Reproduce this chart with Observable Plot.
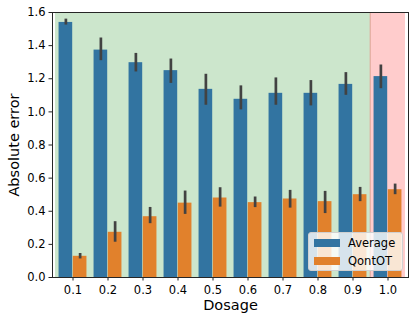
<!DOCTYPE html>
<html>
<head>
<meta charset="utf-8">
<script src="https://cdn.jsdelivr.net/npm/d3@7"></script>
<script src="https://cdn.jsdelivr.net/npm/@observablehq/plot@0.6"></script>
<style>
  html, body { margin: 0; padding: 0; background: #fff; }
  #wrap { position: relative; width: 415px; height: 322px; font-family: "DejaVu Sans", sans-serif; }
  .legend { position: absolute; left: 308px; top: 232px; width: 95px; height: 39px;
            background: rgba(255,255,255,0.8); border: 1px solid #d0d0d0; border-radius: 3px;
            box-sizing: border-box; font-size: 11.5px; color: #000; }
  .item { position: absolute; left: 5px; height: 12px; display: flex; align-items: center; }
  .sw { width: 26px; height: 8px; margin-right: 8px; }
</style>
</head>
<body>
<div id="wrap"></div>
<script>
const doses = ["0.1", "0.2", "0.3", "0.4", "0.5", "0.6", "0.7", "0.8", "0.9", "1.0"];
const seriesNames = ["Average", "QontOT"];
const seriesColors = ["#3274a1", "#e1812c"];
const avgMean = [1.54, 1.373, 1.297, 1.249, 1.136, 1.076, 1.112, 1.112, 1.166, 1.213];
const avgLo   = [1.524, 1.309, 1.241, 1.172, 1.04, 1.012, 1.04, 1.036, 1.10, 1.14];
const avgHi   = [1.56, 1.446, 1.353, 1.319, 1.227, 1.157, 1.205, 1.189, 1.237, 1.283];
const qMean   = [0.128, 0.273, 0.367, 0.449, 0.48, 0.452, 0.474, 0.458, 0.50, 0.53];
const qLo     = [0.112, 0.213, 0.325, 0.381, 0.425, 0.422, 0.419, 0.386, 0.458, 0.50];
const qHi     = [0.145, 0.337, 0.423, 0.522, 0.542, 0.486, 0.526, 0.52, 0.544, 0.564];
const inRange = [true, true, true, true, true, true, true, true, true, false];
const yTicks  = [0, 0.2, 0.4, 0.6, 0.8, 1.0, 1.2, 1.4, 1.6];
const yMax = 1.6;

const W = 415, H = 322, ml = 52, mr = 7, mt = 12, mb = 45;
const bw = (W - ml - mr) / doses.length;

const avgRows = doses.map((d, i) => ({dose: d, mean: avgMean[i], lo: avgLo[i], hi: avgHi[i]}));
const qRows = doses.map((d, i) => ({dose: d, mean: qMean[i], lo: qLo[i], hi: qHi[i]}));
const greenDoses = doses.filter((d, i) => inRange[i]);
const redDoses = doses.filter((d, i) => !inRange[i]);

const chart = Plot.plot({
  width: W, height: H,
  marginLeft: ml, marginRight: mr, marginTop: mt, marginBottom: mb,
  style: {fontFamily: "DejaVu Sans, sans-serif", fontSize: "11.5px", color: "#000", background: "#fff"},
  x: {type: "band", domain: doses, padding: 0, label: null},
  y: {domain: [0, yMax], label: null},
  marks: [
    Plot.barY(greenDoses, {x: d => d, y1: 0, y2: yMax, fill: "#cce6cc"}),
    Plot.barY(redDoses, {x: d => d, y1: 0, y2: yMax, fill: "#ffcccc"}),
    Plot.ruleX(redDoses, {x: d => d, y1: 0, y2: yMax, dx: -bw / 2, stroke: "#dba595", strokeWidth: 1}),
    Plot.barY(avgRows, {x: "dose", y: "mean", fill: seriesColors[0], insetLeft: 0.1 * bw, insetRight: 0.5 * bw}),
    Plot.barY(qRows, {x: "dose", y: "mean", fill: seriesColors[1], insetLeft: 0.5 * bw, insetRight: 0.1 * bw}),
    Plot.ruleX(avgRows, {x: "dose", y1: "lo", y2: "hi", dx: -0.2 * bw, stroke: "#424242", strokeWidth: 2.7}),
    Plot.ruleX(qRows, {x: "dose", y1: "lo", y2: "hi", dx: 0.2 * bw, stroke: "#424242", strokeWidth: 2.7}),
    Plot.axisX({tickSize: 3.5, tickPadding: 4.5, label: null, stroke: "#222", fontSize: 11.5, fill: "#000"}),
    Plot.axisY({ticks: yTicks, tickFormat: d3.format(".1f"), tickSize: 3.5, tickPadding: 3.5, label: null, stroke: "#222", fontSize: 11.5, fill: "#000"}),
    Plot.text(["Absolute error"], {frameAnchor: "left", dx: -38.6, rotate: -90, text: d => d, fontSize: 14.5, lineAnchor: "middle", textAnchor: "middle", fill: "#000"}),
    Plot.text(["Dosage"], {frameAnchor: "bottom", dy: 27.5, text: d => d, fontSize: 14.5, lineAnchor: "middle", textAnchor: "middle", fill: "#000"}),
    Plot.frame({stroke: "#262626", strokeWidth: 1})
  ]
});

const wrap = document.getElementById("wrap");
wrap.appendChild(chart);

const legend = document.createElement("div");
legend.className = "legend";
seriesNames.forEach((name, i) => {
  const item = document.createElement("div");
  item.className = "item";
  item.style.top = (4 + i * 17.5) + "px";
  const sw = document.createElement("div");
  sw.className = "sw";
  sw.style.background = seriesColors[i];
  const label = document.createElement("span");
  label.textContent = name;
  item.appendChild(sw);
  item.appendChild(label);
  legend.appendChild(item);
});
wrap.appendChild(legend);
</script>
</body>
</html>
